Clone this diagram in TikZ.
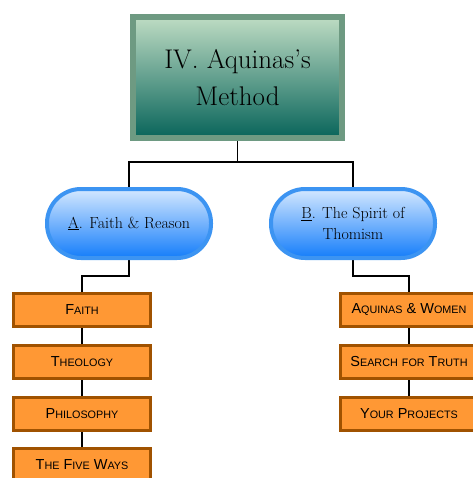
\documentclass[tikz,border=0pt]{standalone}
\usepackage{fontspec}
\newfontfamily\boxfont{Liberation Sans}
\usetikzlibrary{backgrounds,shadows}
\definecolor{titleborder}{RGB}{110,154,130}
\definecolor{titletop}{RGB}{190,220,195}
\definecolor{titlebot}{RGB}{8,100,90}
\definecolor{pillborder}{RGB}{60,148,242}
\definecolor{pilltop}{RGB}{212,232,255}
\definecolor{pillbot}{RGB}{20,125,250}
\definecolor{orfill}{RGB}{255,152,52}
\definecolor{orborder}{RGB}{160,82,0}
\newcommand\smc[1]{{\fontsize{10.8}{13}\selectfont #1}}
\newcommand\scw[2]{#1\smc{#2}}
\tikzset{
  titlebox/.style={draw=titleborder, line width=6pt, top color=titletop, bottom color=titlebot,
    minimum width=209pt, minimum height=121pt, inner sep=0pt, align=center,
    font=\fontsize{27}{37}\selectfont},
  pill/.style={draw=pillborder, line width=4pt, top color=pilltop, bottom color=pillbot,
    rounded corners=34pt, minimum width=164pt, minimum height=69pt, inner sep=0pt, align=center,
    font=\fontsize{16}{21}\selectfont},
  topic/.style={draw=orborder, line width=3pt, fill=orfill, minimum width=137pt, minimum height=33pt,
    inner sep=0pt, font=\boxfont\fontsize{14.5}{17}\selectfont,
    drop shadow={shadow xshift=1pt, shadow yshift=-1.5pt, fill=black!30, opacity=0.6}},
  conn/.style={draw=black, line width=1.2pt}
}
\begin{document}
\begin{tikzpicture}[x=1pt,y=-1pt]
\useasboundingbox (0,0) rectangle (472,478);
\node[titlebox] (title) at (237.5,77.5) {IV. Aquinas's\\Method};
\node[pill] (pa) at (129,223.5) {\underline{A}. Faith \& Reason};
\node[pill] (pb) at (353,223.5) {\underline{B}. The Spirit of\\Thomism};
\node[topic] (f1) at (82,310) {\scw{F}{AITH}};
\node[topic] (f2) at (82,361.5) {\scw{T}{HEOLOGY}};
\node[topic] (f3) at (82,413.5) {\scw{P}{HILOSOPHY}};
\node[topic] (f4) at (82,465) {\scw{T}{HE} \scw{F}{IVE} \scw{W}{AYS}};
\node[topic] (g1) at (409,310) {\scw{A}{QUINAS} \& \scw{W}{OMEN}};
\node[topic] (g2) at (409,361.5) {\scw{S}{EARCH} \smc{FOR} \scw{T}{RUTH}};
\node[topic] (g3) at (409,413.5) {\scw{Y}{OUR} \scw{P}{ROJECTS}};
\coordinate (bus) at (0,162);
\coordinate (lbus) at (0,276);
\begin{scope}[on background layer]
\draw[conn] (title.south) -- (title.south |- bus);
\draw[conn] (pa.north) |- (title.south |- bus) -| (pb.north);
\draw[conn] (pa.south) -- (pa.south |- lbus) -| (f1.north);
\draw[conn] (pb.south) -- (pb.south |- lbus) -| (g1.north);
\draw[conn] (f1.south) -- (f2.north);
\draw[conn] (f2.south) -- (f3.north);
\draw[conn] (f3.south) -- (f4.north);
\draw[conn] (g1.south) -- (g2.north);
\draw[conn] (g2.south) -- (g3.north);
\end{scope}
\end{tikzpicture}
\end{document}
